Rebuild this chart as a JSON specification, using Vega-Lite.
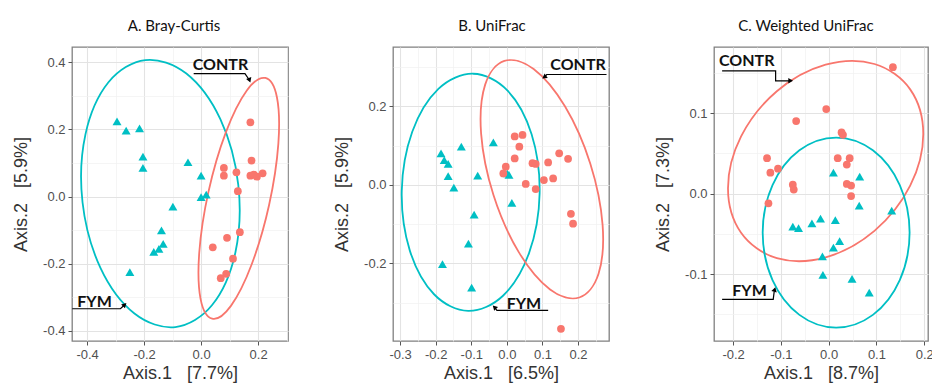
{
  "$schema": "https://vega.github.io/schema/vega-lite/v6.json",
  "padding": {"left": 11, "top": 18, "right": 5, "bottom": 1},
  "background": "white",
  "spacing": 105,
  "bounds": "flush",
  "config": {
    "view": {"stroke": "#808080", "strokeWidth": 1.3},
    "axis": {"labelFont": "Liberation Sans", "labelFontSize": 13, "labelColor": "#505050", "titleFont": "Liberation Sans", "titleFontSize": 18, "titleFontWeight": "normal", "titleColor": "#333333", "tickColor": "#555555", "tickSize": 4, "labelPadding": 3, "domain": false, "labelOverlap": false, "labelFlush": false},
    "axisY": {"minExtent": 36, "maxExtent": 36, "titlePadding": 6},
    "axisX": {"titlePadding": 3},
    "title": {"font": "Lato", "fontSize": 15, "fontWeight": "normal", "color": "#111111", "offset": 13}
  },
  "datasets": {
    "pts": [
      {"panel": "A", "group": "FYM", "x": -0.295, "y": 0.224},
      {"panel": "A", "group": "FYM", "x": -0.263, "y": 0.196},
      {"panel": "A", "group": "FYM", "x": -0.216, "y": 0.203},
      {"panel": "A", "group": "FYM", "x": -0.204, "y": 0.119},
      {"panel": "A", "group": "FYM", "x": -0.204, "y": 0.085},
      {"panel": "A", "group": "FYM", "x": -0.046, "y": 0.102},
      {"panel": "A", "group": "FYM", "x": 0.0, "y": 0.062},
      {"panel": "A", "group": "FYM", "x": 0.0, "y": -0.002},
      {"panel": "A", "group": "FYM", "x": 0.018, "y": 0.006},
      {"panel": "A", "group": "FYM", "x": -0.099, "y": -0.03},
      {"panel": "A", "group": "FYM", "x": -0.139, "y": -0.101},
      {"panel": "A", "group": "FYM", "x": -0.133, "y": -0.141},
      {"panel": "A", "group": "FYM", "x": -0.148, "y": -0.156},
      {"panel": "A", "group": "FYM", "x": -0.166, "y": -0.165},
      {"panel": "A", "group": "FYM", "x": -0.25, "y": -0.225},
      {"panel": "A", "group": "CONTR", "x": 0.173, "y": 0.221},
      {"panel": "A", "group": "CONTR", "x": 0.177, "y": 0.107},
      {"panel": "A", "group": "CONTR", "x": 0.08, "y": 0.085},
      {"panel": "A", "group": "CONTR", "x": 0.08, "y": 0.062},
      {"panel": "A", "group": "CONTR", "x": 0.124, "y": 0.072},
      {"panel": "A", "group": "CONTR", "x": 0.173, "y": 0.062},
      {"panel": "A", "group": "CONTR", "x": 0.185, "y": 0.065},
      {"panel": "A", "group": "CONTR", "x": 0.196, "y": 0.059},
      {"panel": "A", "group": "CONTR", "x": 0.216, "y": 0.069},
      {"panel": "A", "group": "CONTR", "x": 0.129, "y": 0.016},
      {"panel": "A", "group": "CONTR", "x": 0.136, "y": -0.106},
      {"panel": "A", "group": "CONTR", "x": 0.091, "y": -0.123},
      {"panel": "A", "group": "CONTR", "x": 0.041, "y": -0.151},
      {"panel": "A", "group": "CONTR", "x": 0.112, "y": -0.185},
      {"panel": "A", "group": "CONTR", "x": 0.088, "y": -0.23},
      {"panel": "A", "group": "CONTR", "x": 0.069, "y": -0.243},
      {"panel": "B", "group": "FYM", "x": -0.185, "y": 0.08},
      {"panel": "B", "group": "FYM", "x": -0.176, "y": 0.063},
      {"panel": "B", "group": "FYM", "x": -0.165, "y": 0.053},
      {"panel": "B", "group": "FYM", "x": -0.165, "y": 0.022},
      {"panel": "B", "group": "FYM", "x": -0.149, "y": -0.007},
      {"panel": "B", "group": "FYM", "x": -0.128, "y": 0.097},
      {"panel": "B", "group": "FYM", "x": -0.082, "y": 0.023},
      {"panel": "B", "group": "FYM", "x": -0.038, "y": 0.108},
      {"panel": "B", "group": "FYM", "x": 0.001, "y": 0.029},
      {"panel": "B", "group": "FYM", "x": 0.006, "y": 0.025},
      {"panel": "B", "group": "FYM", "x": 0.014, "y": -0.046},
      {"panel": "B", "group": "FYM", "x": -0.092, "y": -0.076},
      {"panel": "B", "group": "FYM", "x": -0.108, "y": -0.15},
      {"panel": "B", "group": "FYM", "x": -0.181, "y": -0.202},
      {"panel": "B", "group": "FYM", "x": -0.099, "y": -0.262},
      {"panel": "B", "group": "CONTR", "x": 0.022, "y": 0.123},
      {"panel": "B", "group": "CONTR", "x": 0.044, "y": 0.127},
      {"panel": "B", "group": "CONTR", "x": 0.035, "y": 0.097},
      {"panel": "B", "group": "CONTR", "x": 0.022, "y": 0.067},
      {"panel": "B", "group": "CONTR", "x": -0.003, "y": 0.046},
      {"panel": "B", "group": "CONTR", "x": -0.01, "y": 0.029},
      {"panel": "B", "group": "CONTR", "x": 0.072, "y": 0.055},
      {"panel": "B", "group": "CONTR", "x": 0.081, "y": 0.053},
      {"panel": "B", "group": "CONTR", "x": 0.053, "y": 0.002},
      {"panel": "B", "group": "CONTR", "x": 0.081, "y": -0.011},
      {"panel": "B", "group": "CONTR", "x": 0.104, "y": 0.012},
      {"panel": "B", "group": "CONTR", "x": 0.13, "y": 0.016},
      {"panel": "B", "group": "CONTR", "x": 0.116, "y": 0.057},
      {"panel": "B", "group": "CONTR", "x": 0.147, "y": 0.08},
      {"panel": "B", "group": "CONTR", "x": 0.172, "y": 0.066},
      {"panel": "B", "group": "CONTR", "x": 0.18, "y": -0.074},
      {"panel": "B", "group": "CONTR", "x": 0.186, "y": -0.099},
      {"panel": "B", "group": "CONTR", "x": 0.152, "y": -0.367},
      {"panel": "C", "group": "CONTR", "x": 0.1345, "y": 0.157},
      {"panel": "C", "group": "CONTR", "x": -0.005, "y": 0.105},
      {"panel": "C", "group": "CONTR", "x": -0.068, "y": 0.09},
      {"panel": "C", "group": "CONTR", "x": 0.027, "y": 0.076},
      {"panel": "C", "group": "CONTR", "x": 0.03, "y": 0.073},
      {"panel": "C", "group": "CONTR", "x": -0.129, "y": 0.044},
      {"panel": "C", "group": "CONTR", "x": -0.106, "y": 0.031},
      {"panel": "C", "group": "CONTR", "x": -0.122, "y": 0.026},
      {"panel": "C", "group": "CONTR", "x": 0.019, "y": 0.044},
      {"panel": "C", "group": "CONTR", "x": 0.044, "y": 0.044},
      {"panel": "C", "group": "CONTR", "x": 0.038, "y": 0.036},
      {"panel": "C", "group": "CONTR", "x": -0.075, "y": 0.011},
      {"panel": "C", "group": "CONTR", "x": -0.073, "y": 0.005},
      {"panel": "C", "group": "CONTR", "x": 0.038, "y": 0.012},
      {"panel": "C", "group": "CONTR", "x": 0.047, "y": 0.01},
      {"panel": "C", "group": "CONTR", "x": 0.047, "y": -0.003},
      {"panel": "C", "group": "CONTR", "x": -0.126, "y": -0.012},
      {"panel": "C", "group": "FYM", "x": 0.01, "y": 0.026},
      {"panel": "C", "group": "FYM", "x": 0.065, "y": 0.021},
      {"panel": "C", "group": "FYM", "x": 0.064, "y": -0.015},
      {"panel": "C", "group": "FYM", "x": 0.132, "y": -0.021},
      {"panel": "C", "group": "FYM", "x": -0.017, "y": -0.031},
      {"panel": "C", "group": "FYM", "x": 0.014, "y": -0.033},
      {"panel": "C", "group": "FYM", "x": -0.035, "y": -0.037},
      {"panel": "C", "group": "FYM", "x": -0.075, "y": -0.041},
      {"panel": "C", "group": "FYM", "x": -0.063, "y": -0.043},
      {"panel": "C", "group": "FYM", "x": 0.023, "y": -0.059},
      {"panel": "C", "group": "FYM", "x": 0.01, "y": -0.067},
      {"panel": "C", "group": "FYM", "x": -0.013, "y": -0.078},
      {"panel": "C", "group": "FYM", "x": -0.012, "y": -0.101},
      {"panel": "C", "group": "FYM", "x": 0.049, "y": -0.106},
      {"panel": "C", "group": "FYM", "x": 0.085, "y": -0.123}
    ],
    "ell": [
      {"panel": "A", "group": "FYM", "i": 0, "x": -0.1954, "y": 0.4062},
      {"panel": "A", "group": "FYM", "i": 1, "x": -0.0517, "y": 0.366},
      {"panel": "A", "group": "FYM", "i": 2, "x": 0.0676, "y": 0.2301},
      {"panel": "A", "group": "FYM", "i": 3, "x": 0.1305, "y": 0.0349},
      {"panel": "A", "group": "FYM", "i": 4, "x": 0.1202, "y": -0.1673},
      {"panel": "A", "group": "FYM", "i": 5, "x": 0.0395, "y": -0.3222},
      {"panel": "A", "group": "FYM", "i": 6, "x": -0.0902, "y": -0.3884},
      {"panel": "A", "group": "FYM", "i": 7, "x": -0.2339, "y": -0.3482},
      {"panel": "A", "group": "FYM", "i": 8, "x": -0.3532, "y": -0.2123},
      {"panel": "A", "group": "FYM", "i": 9, "x": -0.4161, "y": -0.0171},
      {"panel": "A", "group": "FYM", "i": 10, "x": -0.4058, "y": 0.1851},
      {"panel": "A", "group": "FYM", "i": 11, "x": -0.3251, "y": 0.34},
      {"panel": "A", "group": "CONTR", "i": 0, "x": 0.2256, "y": 0.3528},
      {"panel": "A", "group": "CONTR", "i": 1, "x": 0.2663, "y": 0.2948},
      {"panel": "A", "group": "CONTR", "i": 2, "x": 0.2711, "y": 0.1566},
      {"panel": "A", "group": "CONTR", "i": 3, "x": 0.2386, "y": -0.0252},
      {"panel": "A", "group": "CONTR", "i": 4, "x": 0.1777, "y": -0.2016},
      {"panel": "A", "group": "CONTR", "i": 5, "x": 0.1047, "y": -0.3254},
      {"panel": "A", "group": "CONTR", "i": 6, "x": 0.039, "y": -0.3634},
      {"panel": "A", "group": "CONTR", "i": 7, "x": -0.0017, "y": -0.3054},
      {"panel": "A", "group": "CONTR", "i": 8, "x": -0.0065, "y": -0.1672},
      {"panel": "A", "group": "CONTR", "i": 9, "x": 0.026, "y": 0.0146},
      {"panel": "A", "group": "CONTR", "i": 10, "x": 0.0869, "y": 0.191},
      {"panel": "A", "group": "CONTR", "i": 11, "x": 0.1599, "y": 0.3148},
      {"panel": "B", "group": "FYM", "i": 0, "x": -0.0947, "y": 0.2829},
      {"panel": "B", "group": "FYM", "i": 1, "x": 0.0013, "y": 0.2405},
      {"panel": "B", "group": "FYM", "i": 2, "x": 0.0695, "y": 0.1287},
      {"panel": "B", "group": "FYM", "i": 3, "x": 0.092, "y": -0.0229},
      {"panel": "B", "group": "FYM", "i": 4, "x": 0.0625, "y": -0.1735},
      {"panel": "B", "group": "FYM", "i": 5, "x": -0.0109, "y": -0.2827},
      {"panel": "B", "group": "FYM", "i": 6, "x": -0.1087, "y": -0.3213},
      {"panel": "B", "group": "FYM", "i": 7, "x": -0.2047, "y": -0.2789},
      {"panel": "B", "group": "FYM", "i": 8, "x": -0.2729, "y": -0.1671},
      {"panel": "B", "group": "FYM", "i": 9, "x": -0.2954, "y": -0.0155},
      {"panel": "B", "group": "FYM", "i": 10, "x": -0.2659, "y": 0.1351},
      {"panel": "B", "group": "FYM", "i": 11, "x": -0.1925, "y": 0.2443},
      {"panel": "B", "group": "CONTR", "i": 0, "x": -0.007, "y": 0.3154},
      {"panel": "B", "group": "CONTR", "i": 1, "x": 0.0752, "y": 0.2949},
      {"panel": "B", "group": "CONTR", "i": 2, "x": 0.1636, "y": 0.1992},
      {"panel": "B", "group": "CONTR", "i": 3, "x": 0.2345, "y": 0.0538},
      {"panel": "B", "group": "CONTR", "i": 4, "x": 0.269, "y": -0.1022},
      {"panel": "B", "group": "CONTR", "i": 5, "x": 0.2576, "y": -0.2269},
      {"panel": "B", "group": "CONTR", "i": 6, "x": 0.2036, "y": -0.2872},
      {"panel": "B", "group": "CONTR", "i": 7, "x": 0.1214, "y": -0.2667},
      {"panel": "B", "group": "CONTR", "i": 8, "x": 0.033, "y": -0.171},
      {"panel": "B", "group": "CONTR", "i": 9, "x": -0.0379, "y": -0.0256},
      {"panel": "B", "group": "CONTR", "i": 10, "x": -0.0724, "y": 0.1304},
      {"panel": "B", "group": "CONTR", "i": 11, "x": -0.061, "y": 0.2551},
      {"panel": "C", "group": "CONTR", "i": 0, "x": 0.1981, "y": 0.0741},
      {"panel": "C", "group": "CONTR", "i": 1, "x": 0.1707, "y": 0.1294},
      {"panel": "C", "group": "CONTR", "i": 2, "x": 0.0959, "y": 0.1609},
      {"panel": "C", "group": "CONTR", "i": 3, "x": -0.0063, "y": 0.16},
      {"panel": "C", "group": "CONTR", "i": 4, "x": -0.1085, "y": 0.1271},
      {"panel": "C", "group": "CONTR", "i": 5, "x": -0.1833, "y": 0.071},
      {"panel": "C", "group": "CONTR", "i": 6, "x": -0.2107, "y": 0.0067},
      {"panel": "C", "group": "CONTR", "i": 7, "x": -0.1833, "y": -0.0486},
      {"panel": "C", "group": "CONTR", "i": 8, "x": -0.1085, "y": -0.0801},
      {"panel": "C", "group": "CONTR", "i": 9, "x": -0.0063, "y": -0.0792},
      {"panel": "C", "group": "CONTR", "i": 10, "x": 0.0959, "y": -0.0463},
      {"panel": "C", "group": "CONTR", "i": 11, "x": 0.1707, "y": 0.0098},
      {"panel": "C", "group": "FYM", "i": 0, "x": 0.1695, "y": -0.0484},
      {"panel": "C", "group": "FYM", "i": 1, "x": 0.1489, "y": 0.0106},
      {"panel": "C", "group": "FYM", "i": 2, "x": 0.0926, "y": 0.0538},
      {"panel": "C", "group": "FYM", "i": 3, "x": 0.0157, "y": 0.0696},
      {"panel": "C", "group": "FYM", "i": 4, "x": -0.0612, "y": 0.0538},
      {"panel": "C", "group": "FYM", "i": 5, "x": -0.1175, "y": 0.0106},
      {"panel": "C", "group": "FYM", "i": 6, "x": -0.1381, "y": -0.0484},
      {"panel": "C", "group": "FYM", "i": 7, "x": -0.1175, "y": -0.1074},
      {"panel": "C", "group": "FYM", "i": 8, "x": -0.0612, "y": -0.1506},
      {"panel": "C", "group": "FYM", "i": 9, "x": 0.0157, "y": -0.1664},
      {"panel": "C", "group": "FYM", "i": 10, "x": 0.0926, "y": -0.1506},
      {"panel": "C", "group": "FYM", "i": 11, "x": 0.1489, "y": -0.1074}
    ],
    "lines": [
      {"panel": "A", "id": "c", "i": 0, "x": -0.026, "y": 0.366},
      {"panel": "A", "id": "c", "i": 1, "x": 0.154, "y": 0.366},
      {"panel": "A", "id": "c", "i": 2, "x": 0.17, "y": 0.346},
      {"panel": "A", "id": "f", "i": 0, "x": -0.452, "y": -0.334},
      {"panel": "A", "id": "f", "i": 1, "x": -0.283, "y": -0.334},
      {"panel": "A", "id": "f", "i": 2, "x": -0.268, "y": -0.322},
      {"panel": "B", "id": "c", "i": 0, "x": 0.28, "y": 0.281},
      {"panel": "B", "id": "c", "i": 1, "x": 0.112, "y": 0.281},
      {"panel": "B", "id": "c", "i": 2, "x": 0.105, "y": 0.274},
      {"panel": "B", "id": "f", "i": 0, "x": 0.116, "y": -0.32},
      {"panel": "B", "id": "f", "i": 1, "x": -0.028, "y": -0.32},
      {"panel": "B", "id": "f", "i": 2, "x": -0.035, "y": -0.312},
      {"panel": "C", "id": "c", "i": 0, "x": -0.223, "y": 0.1524},
      {"panel": "C", "id": "c", "i": 1, "x": -0.111, "y": 0.1524},
      {"panel": "C", "id": "c", "i": 2, "x": -0.111, "y": 0.14},
      {"panel": "C", "id": "c", "i": 3, "x": -0.082, "y": 0.14},
      {"panel": "C", "id": "f", "i": 0, "x": -0.223, "y": -0.1313},
      {"panel": "C", "id": "f", "i": 1, "x": -0.116, "y": -0.1313},
      {"panel": "C", "id": "f", "i": 2, "x": -0.114, "y": -0.1217}
    ],
    "heads": [
      {"panel": "A", "id": "c", "x": 0.17, "y": 0.346},
      {"panel": "A", "id": "f", "x": -0.268, "y": -0.322},
      {"panel": "B", "id": "c", "x": 0.105, "y": 0.274},
      {"panel": "B", "id": "f", "x": -0.035, "y": -0.312},
      {"panel": "C", "id": "c", "x": -0.0795, "y": 0.14},
      {"panel": "C", "id": "f", "x": -0.113, "y": -0.119}
    ],
    "labels": [
      {"panel": "A", "label": "CONTR", "x": 0.068, "y": 0.392},
      {"panel": "A", "label": "FYM", "x": -0.374, "y": -0.314},
      {"panel": "B", "label": "CONTR", "x": 0.2, "y": 0.305},
      {"panel": "B", "label": "FYM", "x": 0.048, "y": -0.304},
      {"panel": "C", "label": "CONTR", "x": -0.1715, "y": 0.164},
      {"panel": "C", "label": "FYM", "x": -0.1657, "y": -0.1214}
    ]
  },
  "hconcat": [
    {
      "width": 216, "height": 294,
      "title": {"text": "A. Bray-Curtis", "dx": -6},
      "encoding": {
        "x": {"field": "x", "type": "quantitative", "scale": {"domain": [-0.453, 0.305], "nice": false, "zero": false},
          "axis": {"title": "Axis.1\u00a0\u00a0\u00a0[7.7%]", "values": [-0.4, -0.3, -0.2, -0.1, 0, 0.1, 0.2, 0.3],
            "labelExpr": "abs(datum.value*5-round(datum.value*5))<1e-6 ? replace(format(datum.value,'.1f'),'\u2212','-') : ''",
            "tickOpacity": {"condition": {"test": "abs(datum.value*5-round(datum.value*5))<1e-6", "value": 1}, "value": 0},
            "gridColor": {"condition": {"test": "abs(datum.value*5-round(datum.value*5))<1e-6", "value": "#e3e3e3"}, "value": "#f1f1f1"},
            "gridWidth": {"condition": {"test": "abs(datum.value*5-round(datum.value*5))<1e-6", "value": 1.1}, "value": 0.7}}},
        "y": {"field": "y", "type": "quantitative", "scale": {"domain": [-0.43, 0.445], "nice": false, "zero": false},
          "axis": {"title": "Axis.2\u00a0\u00a0\u00a0[5.9%]", "values": [-0.4, -0.3, -0.2, -0.1, 0, 0.1, 0.2, 0.3, 0.4],
            "labelExpr": "abs(datum.value*5-round(datum.value*5))<1e-6 ? replace(format(datum.value,'.1f'),'\u2212','-') : ''",
            "tickOpacity": {"condition": {"test": "abs(datum.value*5-round(datum.value*5))<1e-6", "value": 1}, "value": 0},
            "gridColor": {"condition": {"test": "abs(datum.value*5-round(datum.value*5))<1e-6", "value": "#e3e3e3"}, "value": "#f1f1f1"},
            "gridWidth": {"condition": {"test": "abs(datum.value*5-round(datum.value*5))<1e-6", "value": 1.1}, "value": 0.7}}}
      },
      "layer": [
        {"data": {"name": "ell"}, "transform": [{"filter": "datum.panel==='A'"}],
          "mark": {"type": "line", "interpolate": "cardinal-closed", "strokeWidth": 1.8},
          "encoding": {"color": {"field": "group", "type": "nominal", "scale": {"domain": ["CONTR", "FYM"], "range": ["#F8766D", "#00BFC4"]}, "legend": null}, "order": {"field": "i", "type": "quantitative"}}},
        {"data": {"name": "pts"}, "transform": [{"filter": "datum.panel==='A'"}],
          "mark": {"type": "point", "filled": true, "opacity": 1},
          "encoding": {"color": {"field": "group", "type": "nominal", "scale": {"domain": ["CONTR", "FYM"], "range": ["#F8766D", "#00BFC4"]}, "legend": null},
            "shape": {"field": "group", "type": "nominal", "scale": {"domain": ["CONTR", "FYM"], "range": ["circle", "triangle-up"]}, "legend": null},
            "size": {"field": "group", "type": "nominal", "scale": {"domain": ["CONTR", "FYM"], "range": [60, 80]}, "legend": null}}},
        {"data": {"name": "lines"}, "transform": [{"filter": "datum.panel==='A'"}],
          "mark": {"type": "line", "color": "black", "strokeWidth": 1.2},
          "encoding": {"detail": {"field": "id", "type": "nominal"}, "order": {"field": "i", "type": "quantitative"}}},
        {"data": {"name": "heads"}, "transform": [{"filter": "datum.panel==='A' && datum.id==='c'"}],
          "mark": {"type": "point", "shape": "triangle-up", "filled": true, "color": "black", "opacity": 1, "size": 30, "angle": 160}},
        {"data": {"name": "heads"}, "transform": [{"filter": "datum.panel==='A' && datum.id==='f'"}],
          "mark": {"type": "point", "shape": "triangle-up", "filled": true, "color": "black", "opacity": 1, "size": 30, "angle": 45}},
        {"data": {"name": "labels"}, "transform": [{"filter": "datum.panel==='A'"}],
          "mark": {"type": "text", "font": "Lato", "fontSize": 16, "fontWeight": "bold", "color": "#111111", "baseline": "middle", "align": "center"},
          "encoding": {"text": {"field": "label", "type": "nominal"}}}
      ]
    },
    {
      "width": 216, "height": 294,
      "title": {"text": "B. UniFrac", "dx": -9},
      "encoding": {
        "x": {"field": "x", "type": "quantitative", "scale": {"domain": [-0.32, 0.287], "nice": false, "zero": false},
          "axis": {"title": "Axis.1\u00a0\u00a0\u00a0[6.5%]", "values": [-0.3, -0.25, -0.2, -0.15, -0.1, -0.05, 0, 0.05, 0.1, 0.15, 0.2, 0.25],
            "labelExpr": "abs(datum.value*10-round(datum.value*10))<1e-6 ? replace(format(datum.value,'.1f'),'\u2212','-') : ''",
            "tickOpacity": {"condition": {"test": "abs(datum.value*10-round(datum.value*10))<1e-6", "value": 1}, "value": 0},
            "gridColor": {"condition": {"test": "abs(datum.value*10-round(datum.value*10))<1e-6", "value": "#e3e3e3"}, "value": "#f1f1f1"},
            "gridWidth": {"condition": {"test": "abs(datum.value*10-round(datum.value*10))<1e-6", "value": 1.1}, "value": 0.7}}},
        "y": {"field": "y", "type": "quantitative", "scale": {"domain": [-0.398, 0.351], "nice": false, "zero": false},
          "axis": {"title": "Axis.2\u00a0\u00a0\u00a0[5.9%]", "values": [-0.3, -0.2, -0.1, 0, 0.1, 0.2, 0.3],
            "labelExpr": "abs(datum.value*5-round(datum.value*5))<1e-6 ? replace(format(datum.value,'.1f'),'\u2212','-') : ''",
            "tickOpacity": {"condition": {"test": "abs(datum.value*5-round(datum.value*5))<1e-6", "value": 1}, "value": 0},
            "gridColor": {"condition": {"test": "abs(datum.value*5-round(datum.value*5))<1e-6", "value": "#e3e3e3"}, "value": "#f1f1f1"},
            "gridWidth": {"condition": {"test": "abs(datum.value*5-round(datum.value*5))<1e-6", "value": 1.1}, "value": 0.7}}}
      },
      "layer": [
        {"data": {"name": "ell"}, "transform": [{"filter": "datum.panel==='B'"}],
          "mark": {"type": "line", "interpolate": "cardinal-closed", "strokeWidth": 1.8},
          "encoding": {"color": {"field": "group", "type": "nominal", "scale": {"domain": ["CONTR", "FYM"], "range": ["#F8766D", "#00BFC4"]}, "legend": null}, "order": {"field": "i", "type": "quantitative"}}},
        {"data": {"name": "pts"}, "transform": [{"filter": "datum.panel==='B'"}],
          "mark": {"type": "point", "filled": true, "opacity": 1},
          "encoding": {"color": {"field": "group", "type": "nominal", "scale": {"domain": ["CONTR", "FYM"], "range": ["#F8766D", "#00BFC4"]}, "legend": null},
            "shape": {"field": "group", "type": "nominal", "scale": {"domain": ["CONTR", "FYM"], "range": ["circle", "triangle-up"]}, "legend": null},
            "size": {"field": "group", "type": "nominal", "scale": {"domain": ["CONTR", "FYM"], "range": [60, 80]}, "legend": null}}},
        {"data": {"name": "lines"}, "transform": [{"filter": "datum.panel==='B'"}],
          "mark": {"type": "line", "color": "black", "strokeWidth": 1.2},
          "encoding": {"detail": {"field": "id", "type": "nominal"}, "order": {"field": "i", "type": "quantitative"}}},
        {"data": {"name": "heads"}, "transform": [{"filter": "datum.panel==='B' && datum.id==='c'"}],
          "mark": {"type": "point", "shape": "triangle-up", "filled": true, "color": "black", "opacity": 1, "size": 30, "angle": 235}},
        {"data": {"name": "heads"}, "transform": [{"filter": "datum.panel==='B' && datum.id==='f'"}],
          "mark": {"type": "point", "shape": "triangle-up", "filled": true, "color": "black", "opacity": 1, "size": 30, "angle": 315}},
        {"data": {"name": "labels"}, "transform": [{"filter": "datum.panel==='B'"}],
          "mark": {"type": "text", "font": "Lato", "fontSize": 16, "fontWeight": "bold", "color": "#111111", "baseline": "middle", "align": "center"},
          "encoding": {"text": {"field": "label", "type": "nominal"}}}
      ]
    },
    {
      "width": 214, "height": 294,
      "title": {"text": "C. Weighted UniFrac", "dx": -15},
      "encoding": {
        "x": {"field": "x", "type": "quantitative", "scale": {"domain": [-0.24, 0.208], "nice": false, "zero": false},
          "axis": {"title": "Axis.1\u00a0\u00a0\u00a0[8.7%]", "values": [-0.2, -0.15, -0.1, -0.05, 0, 0.05, 0.1, 0.15, 0.2],
            "labelExpr": "abs(datum.value*10-round(datum.value*10))<1e-6 ? replace(format(datum.value,'.1f'),'\u2212','-') : ''",
            "tickOpacity": {"condition": {"test": "abs(datum.value*10-round(datum.value*10))<1e-6", "value": 1}, "value": 0},
            "gridColor": {"condition": {"test": "abs(datum.value*10-round(datum.value*10))<1e-6", "value": "#e3e3e3"}, "value": "#f1f1f1"},
            "gridWidth": {"condition": {"test": "abs(datum.value*10-round(datum.value*10))<1e-6", "value": 1.1}, "value": 0.7}}},
        "y": {"field": "y", "type": "quantitative", "scale": {"domain": [-0.183, 0.182], "nice": false, "zero": false},
          "axis": {"title": "Axis.2\u00a0\u00a0\u00a0[7.3%]", "values": [-0.15, -0.1, -0.05, 0, 0.05, 0.1, 0.15],
            "labelExpr": "abs(datum.value*10-round(datum.value*10))<1e-6 ? replace(format(datum.value,'.1f'),'\u2212','-') : ''",
            "tickOpacity": {"condition": {"test": "abs(datum.value*10-round(datum.value*10))<1e-6", "value": 1}, "value": 0},
            "gridColor": {"condition": {"test": "abs(datum.value*10-round(datum.value*10))<1e-6", "value": "#e3e3e3"}, "value": "#f1f1f1"},
            "gridWidth": {"condition": {"test": "abs(datum.value*10-round(datum.value*10))<1e-6", "value": 1.1}, "value": 0.7}}}
      },
      "layer": [
        {"data": {"name": "ell"}, "transform": [{"filter": "datum.panel==='C'"}],
          "mark": {"type": "line", "interpolate": "cardinal-closed", "strokeWidth": 1.8},
          "encoding": {"color": {"field": "group", "type": "nominal", "scale": {"domain": ["CONTR", "FYM"], "range": ["#F8766D", "#00BFC4"]}, "legend": null}, "order": {"field": "i", "type": "quantitative"}}},
        {"data": {"name": "pts"}, "transform": [{"filter": "datum.panel==='C'"}],
          "mark": {"type": "point", "filled": true, "opacity": 1},
          "encoding": {"color": {"field": "group", "type": "nominal", "scale": {"domain": ["CONTR", "FYM"], "range": ["#F8766D", "#00BFC4"]}, "legend": null},
            "shape": {"field": "group", "type": "nominal", "scale": {"domain": ["CONTR", "FYM"], "range": ["circle", "triangle-up"]}, "legend": null},
            "size": {"field": "group", "type": "nominal", "scale": {"domain": ["CONTR", "FYM"], "range": [60, 80]}, "legend": null}}},
        {"data": {"name": "lines"}, "transform": [{"filter": "datum.panel==='C'"}],
          "mark": {"type": "line", "color": "black", "strokeWidth": 1.2},
          "encoding": {"detail": {"field": "id", "type": "nominal"}, "order": {"field": "i", "type": "quantitative"}}},
        {"data": {"name": "heads"}, "transform": [{"filter": "datum.panel==='C' && datum.id==='c'"}],
          "mark": {"type": "point", "shape": "triangle-up", "filled": true, "color": "black", "opacity": 1, "size": 30, "angle": 90}},
        {"data": {"name": "heads"}, "transform": [{"filter": "datum.panel==='C' && datum.id==='f'"}],
          "mark": {"type": "point", "shape": "triangle-up", "filled": true, "color": "black", "opacity": 1, "size": 30, "angle": 15}},
        {"data": {"name": "labels"}, "transform": [{"filter": "datum.panel==='C'"}],
          "mark": {"type": "text", "font": "Lato", "fontSize": 16, "fontWeight": "bold", "color": "#111111", "baseline": "middle", "align": "center"},
          "encoding": {"text": {"field": "label", "type": "nominal"}}}
      ]
    }
  ]
}
